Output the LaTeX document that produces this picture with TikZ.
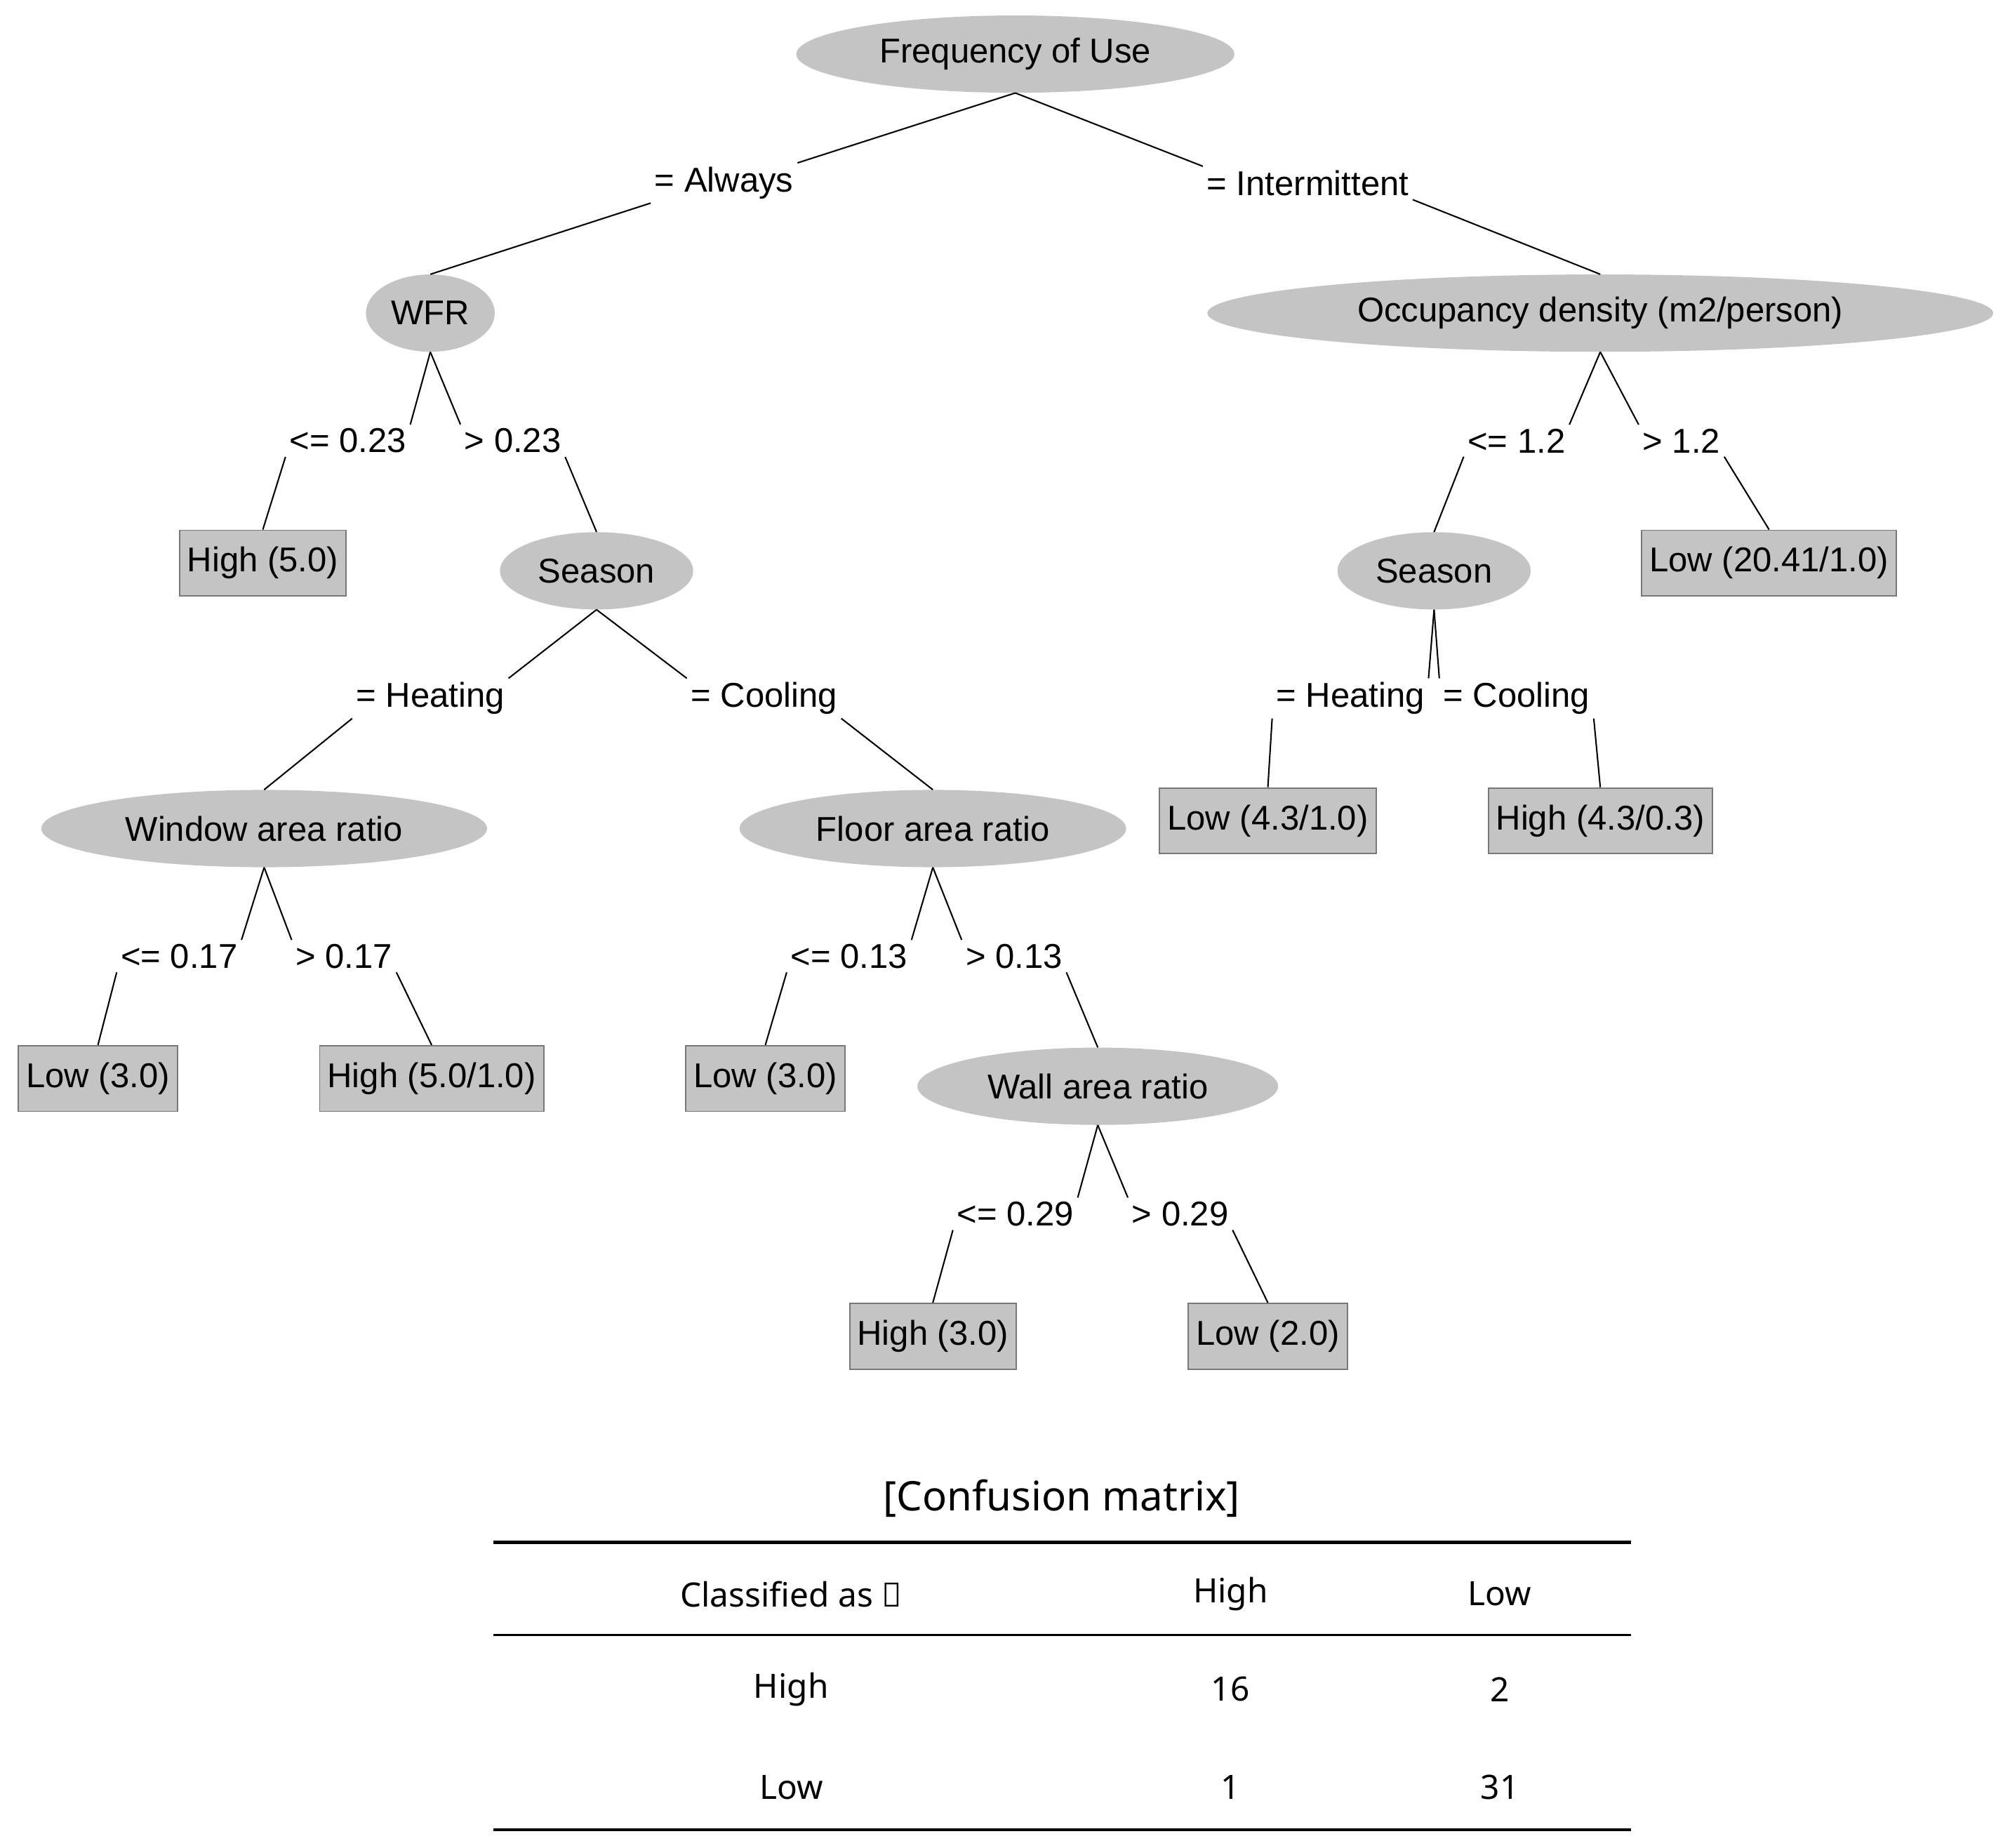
\documentclass[tikz,border=0pt]{standalone}
\usepackage{fontspec}
\setmainfont{Liberation Sans}
\newfontfamily\tabfont{Noto Sans}
\usetikzlibrary{shapes.geometric}
\definecolor{silv}{RGB}{196,196,196}
\definecolor{edgeg}{RGB}{120,120,120}
\begin{document}
\begin{tikzpicture}[x=0.05cm,y=-0.05cm,
  tx/.style={font=\fontsize{38}{44}\selectfont},
  el/.style={ellipse,fill=silv,inner sep=0pt,minimum height=3cm,tx},
  bx/.style={rectangle,fill=silv,draw=edgeg,line width=1.5pt,minimum height=2.55cm,inner xsep=0.3cm,tx},
  lb/.style={tx,inner sep=0.15cm},
  ln/.style={line width=1.6pt},
  tb/.style={font=\tabfont\fontsize{37}{44}\selectfont},
  tbb/.style={font=\tabfont\bfseries\fontsize{37}{44}\selectfont}]
\useasboundingbox (0,0) rectangle (1560,1434);
% nodes
\node[el,minimum width=17cm] (freq) at (788,42) {Frequency of Use};
\node[el,minimum width=5cm] (wfr) at (334,243) {WFR};
\node[el,minimum width=30.5cm] (occ) at (1242,243) {Occupancy density (m2/person)};
\node[el,minimum width=7.5cm] (s1) at (463,443) {Season};
\node[el,minimum width=7.5cm] (s2) at (1113,443) {Season};
\node[el,minimum width=17.3cm] (win) at (205,643) {Window area ratio};
\node[el,minimum width=15cm] (flo) at (724,643) {Floor area ratio};
\node[el,minimum width=14cm] (wal) at (852,843) {Wall area ratio};
\node[bx] (b1) at (204,437) {High (5.0)};
\node[bx] (b2) at (1373,437) {Low (20.41/1.0)};
\node[bx] (b3) at (984,637) {Low (4.3/1.0)};
\node[bx] (b4) at (1242,637) {High (4.3/0.3)};
\node[bx] (b5) at (76,837) {Low (3.0)};
\node[bx] (b6) at (335,837) {High (5.0/1.0)};
\node[bx] (b7) at (594,837) {Low (3.0)};
\node[bx] (b8) at (724,1037) {High (3.0)};
\node[bx] (b9) at (984,1037) {Low (2.0)};
% labels
\node[lb] (l1) at (562,142) {= Always};
\node[lb] (l2) at (1015,142) {= Intermittent};
\node[lb] (l3) at (270,342) {<= 0.23};
\node[lb] (l4) at (398,342) {> 0.23};
\node[lb] (l5) at (334,542) {= Heating};
\node[lb] (l6) at (593,542) {= Cooling};
\node[lb] (l7) at (139,742) {<= 0.17};
\node[lb] (l8) at (267,742) {> 0.17};
\node[lb] (l9) at (659,742) {<= 0.13};
\node[lb] (l10) at (787,742) {> 0.13};
\node[lb] (l11) at (788,942) {<= 0.29};
\node[lb] (l12) at (916,942) {> 0.29};
\node[lb] (l13) at (1177,342) {<= 1.2};
\node[lb] (l14) at (1305,342) {> 1.2};
\node[lb] (l15) at (1048,542) {= Heating};
\node[lb] (l16) at (1177,542) {= Cooling};
% connectors
\foreach \p/\l/\c in {freq/l1/wfr,wfr/l3/b1,s1/l5/win,win/l7/b5,flo/l9/b7,wal/l11/b8,occ/l13/s2,s2/l15/b3}{
  \draw[ln] (\p.south) -- (\l.north east);
  \draw[ln] (\l.south west) -- (\c.north);}
\foreach \p/\l/\c in {freq/l2/occ,wfr/l4/s1,s1/l6/flo,win/l8/b6,flo/l10/wal,wal/l12/b9,occ/l14/b2,s2/l16/b4}{
  \draw[ln] (\p.south) -- (\l.north west);
  \draw[ln] (\l.south east) -- (\c.north);}
% table
\node[font=\tabfont\bfseries\fontsize{45}{52}\selectfont] (title) at (824,1163) {[Confusion matrix]};
\coordinate (r1a) at (383,1197); \coordinate (r1b) at (1266,1197);
\coordinate (r2a) at (383,1269); \coordinate (r2b) at (1266,1269);
\coordinate (r3a) at (383,1420); \coordinate (r3b) at (1266,1420);
\draw[line width=3.5pt] (r1a) -- (r1b);
\draw[line width=2.5pt] (r2a) -- (r2b);
\draw[line width=3.5pt] (r3a) -- (r3b);
\node[tbb] (h0) at (614,1237) {Classified as →};
\node[tbb] (h1) at (955,1237) {High};
\node[tbb] (h2) at (1164,1237) {Low};
\node[tbb] (ra) at (614,1311) {High};
\node[tb] (ra1) at (955,1311) {16};
\node[tb] (ra2) at (1164,1311) {2};
\node[tbb] (rb) at (614,1387) {Low};
\node[tb] (rb1) at (955,1387) {1};
\node[tb] (rb2) at (1164,1387) {31};
\end{tikzpicture}
\end{document}
